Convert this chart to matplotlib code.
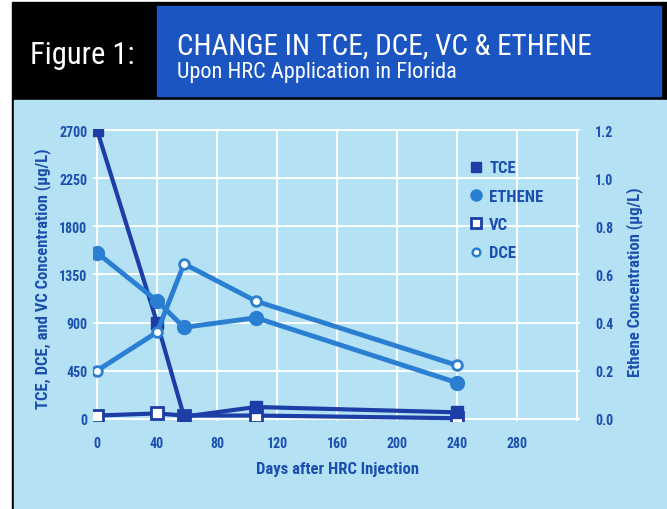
import matplotlib
matplotlib.use("Agg")
import matplotlib.pyplot as plt
from matplotlib import font_manager
from matplotlib.patches import Rectangle
from matplotlib.lines import Line2D

# data
days = [0, 40, 58, 106, 240]
tce = [2700, 900, 20, 110, 60]
dce = [450, 810, 1450, 1100, 500]
vc = [30, 50, 30, 30, 5]
ethene = [0.69, 0.49, 0.38, 0.42, 0.15]

left_ticks = [0, 450, 900, 1350, 1800, 2250, 2700]
right_ticks = [0.0, 0.2, 0.4, 0.6, 0.8, 1.0, 1.2]
x_ticks = [0, 40, 80, 120, 160, 200, 240, 280, 320]

W, H = 667, 510
PANEL = "#b5e1f5"
HEAD_BLUE = "#1a55c2"
TXT = "#1b4fae"
DARK = "#1c3ea6"
MID = "#2a7fd2"

installed = {f.name for f in font_manager.fontManager.ttflist}
font = next((f for f in ["Liberation Sans Narrow", "Roboto Condensed", "Roboto", "DejaVu Sans"]
             if f in installed), "DejaVu Sans")
plt.rcParams["font.family"] = [font, "DejaVu Sans"]


def fx(px):
    return px / W


def fy(py):
    return 1 - py / H


fig = plt.figure(figsize=(W / 100, H / 100), dpi=100, facecolor="white")

# header and panel (behind the axes)
fig.patches.append(Rectangle((fx(12), fy(100)), fx(655), 97 / H, transform=fig.transFigure,
                             color="black", zorder=-3))
fig.patches.append(Rectangle((fx(157), fy(97)), fx(504), 90 / H, transform=fig.transFigure,
                             color=HEAD_BLUE, zorder=-2))
fig.patches.append(Rectangle((fx(12), 0), fx(655), fy(100), transform=fig.transFigure,
                             color="black", zorder=-3))
fig.patches.append(Rectangle((fx(14), 0), fx(653), fy(101), transform=fig.transFigure,
                             color=PANEL, zorder=-2))

fig.text(fx(82), fy(56), "Figure 1:", color="white", fontsize=22,
         ha="center", va="center")
fig.text(fx(177), fy(55), "CHANGE IN TCE, DCE, VC & ETHENE", color="white", fontsize=21,
         ha="left", va="baseline")
fig.text(fx(177), fy(78), "Upon HRC Application in Florida", color="white", fontsize=16,
         ha="left", va="baseline")

ax = fig.add_axes([fx(93), fy(422), (580 - 93) / W, (422 - 130) / H])
ax.set_facecolor("none")
for s in ax.spines.values():
    s.set_visible(False)
ax.set_xlim(-2.7, 322)
ax.set_ylim(-21, 2711)
ax.set_xticks(x_ticks)
ax.set_xticklabels([str(t) if t < 320 else "" for t in x_ticks])
ax.set_yticks(left_ticks)
ax.grid(True, color="white", linewidth=1.4)
ax.set_axisbelow(True)
ax.tick_params(length=0, colors=TXT, labelsize=10)
ax.tick_params(axis="y", pad=4)
ax.tick_params(axis="x", pad=11)
for lab in ax.get_xticklabels() + ax.get_yticklabels():
    lab.set_fontweight("bold")

ax.plot(days, vc, color=DARK, lw=3, marker="s", ms=8, mfc="white", mec=DARK, mew=2, zorder=3)
ax.plot(days, tce, color=DARK, lw=3, marker="s", ms=8, mfc=DARK, mec=DARK, zorder=4)
ax.plot(days, dce, color=MID, lw=3.5, marker="o", ms=7, mfc="white", mec=MID, mew=2, zorder=5)

ax2 = ax.twinx()
ax2.set_facecolor("none")
for s in ax2.spines.values():
    s.set_visible(False)
ax2.set_ylim(-21 * 1.2 / 2700, 2711 * 1.2 / 2700)
ax2.set_yticks(right_ticks)
ax2.set_yticklabels([f"{t:.1f}" for t in right_ticks])
ax2.tick_params(length=0, colors=TXT, labelsize=10, pad=11)
for lab in ax2.get_yticklabels():
    lab.set_fontweight("bold")
ax2.plot(days, ethene, color=MID, lw=3.5, marker="o", ms=10, mfc=MID, mec=MID, zorder=5)

fig.text(fx(43), fy(279), "TCE, DCE, and VC Concentration (\u00b5g/L)", rotation=90,
         color=TXT, fontsize=12, fontweight="bold", ha="center", va="center")
fig.text(fx(635), fy(282), "Ethene Concentration (\u00b5g/L)", rotation=90,
         color=TXT, fontsize=12, fontweight="bold", ha="center", va="center")
fig.text(fx(338), fy(470), "Days after HRC Injection", color=TXT, fontsize=12,
         fontweight="bold", ha="center", va="center")

handles = [
    Line2D([], [], ls="none", marker="s", ms=6.5, mfc=DARK, mec=DARK, label="TCE"),
    Line2D([], [], ls="none", marker="o", ms=8, mfc=MID, mec=MID, label="ETHENE"),
    Line2D([], [], ls="none", marker="s", ms=7, mfc="white", mec=DARK, mew=2, label="VC"),
    Line2D([], [], ls="none", marker="o", ms=5.5, mfc="white", mec=MID, mew=1.8, label="DCE"),
]
leg = ax2.legend(handles=handles, loc="upper left", bbox_to_anchor=(fx(460), fy(153)),
                 bbox_transform=fig.transFigure, frameon=False, borderpad=0,
                 handlelength=0.9, handletextpad=0.35, labelspacing=0.8,
                 prop={"size": 12, "weight": "bold"})
for t in leg.get_texts():
    t.set_color(TXT)

fig.savefig("out.png", dpi=100)
